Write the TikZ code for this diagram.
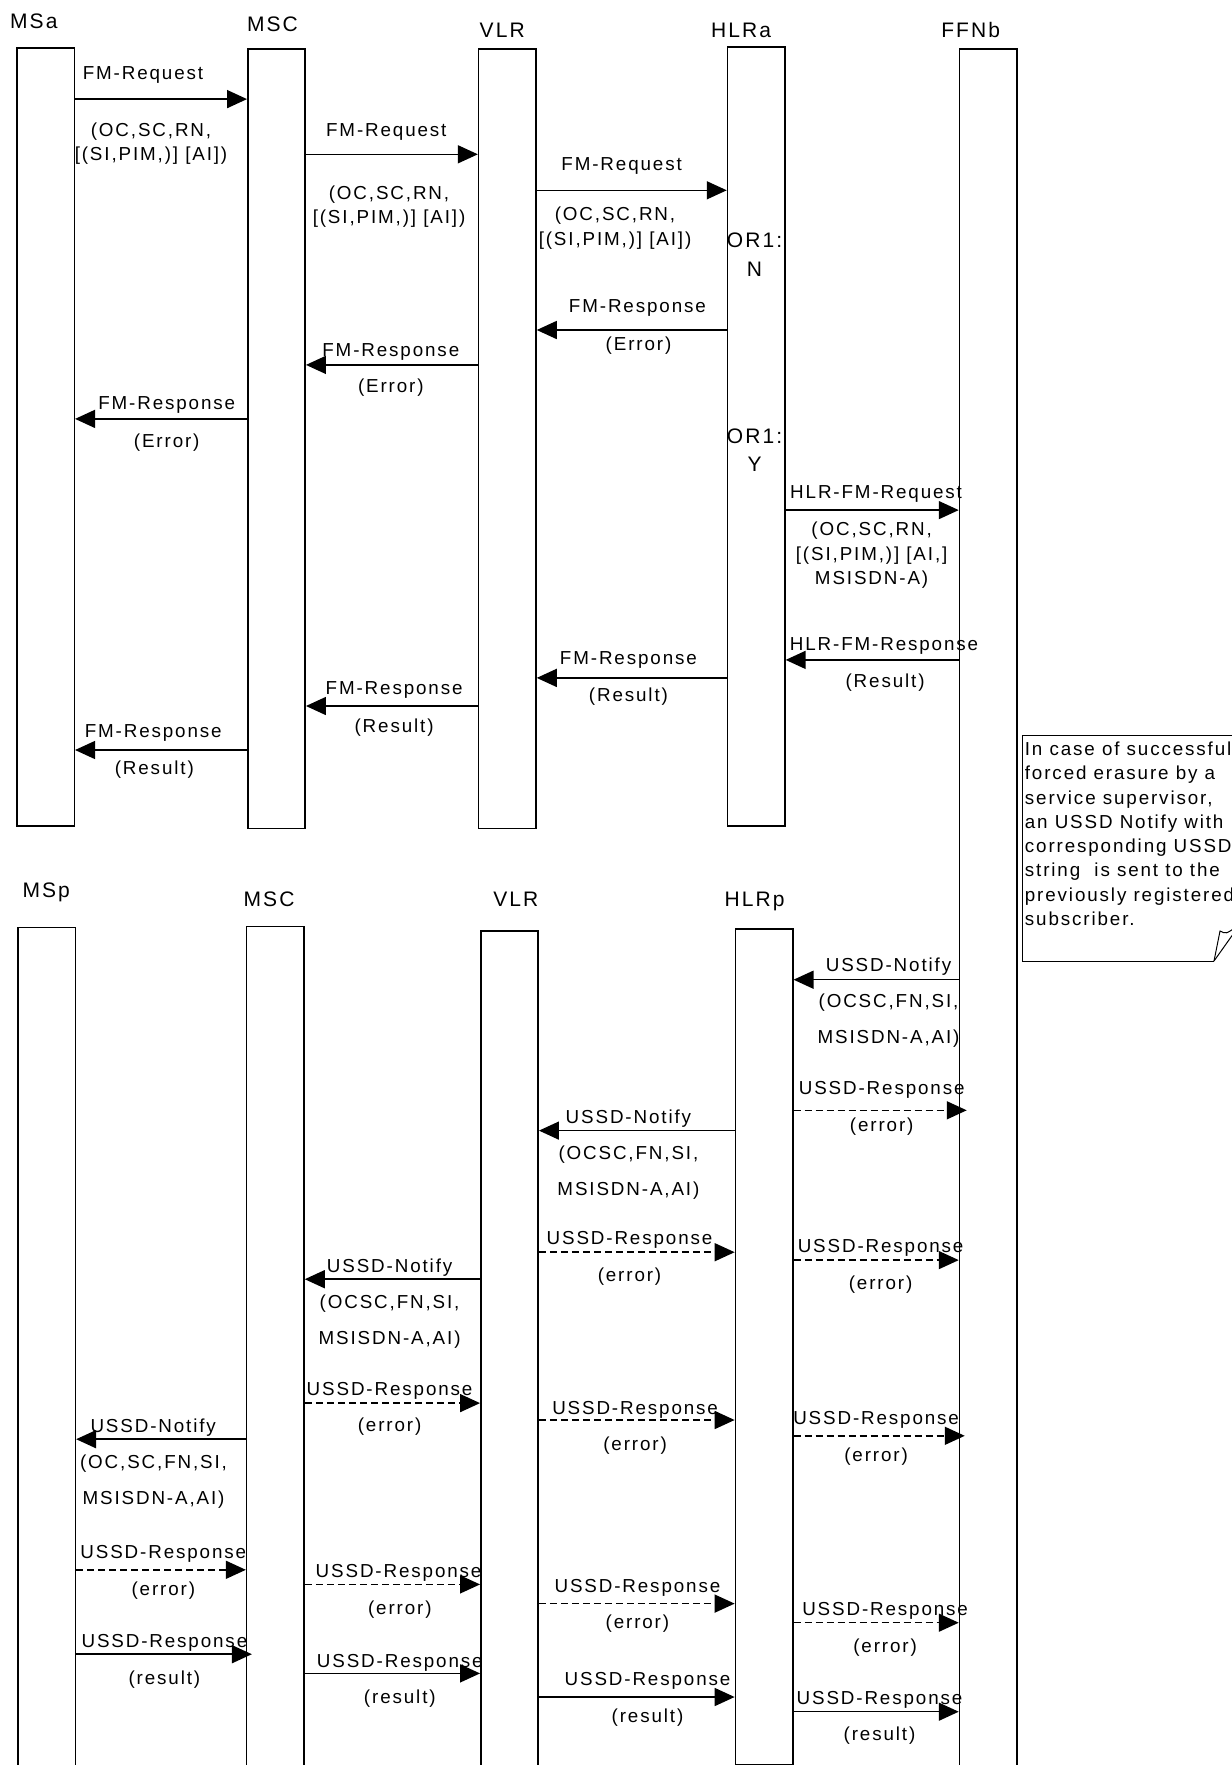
\documentclass[tikz,border=0pt]{standalone}
\usepackage{fontspec}
\setmainfont{Liberation Sans}[LetterSpace=10]
\usetikzlibrary{arrows.meta}
\newcommand\msgfont{\fontsize{18.8}{24.5}\selectfont}
\newcommand\lanefont{\fontsize{21}{25}\selectfont}
\tikzset{
  lane/.style={draw, line width=1.5pt, minimum width=57.4pt, inner sep=0pt, anchor=north},
  lanename/.style={font=\lanefont, anchor=base, inner sep=0pt},
  msgtext/.style={font=\msgfont, anchor=base, inner sep=0pt, align=center},
  msgarrow/.style={line width=1.5pt, -{Triangle[length=20pt, width=18pt]}},
  msgdashed/.style={msgarrow, dash pattern=on 7pt off 4pt},
}

\begin{document}
\begin{tikzpicture}[x=1pt, y=-1pt]
  \useasboundingbox (0,0) rectangle (1232,1765);

  % upper part: forced erasure request
  \node[lane, minimum height=778.1pt] (msa) at (45.6,47.3) {};
  \node[lane, minimum height=779.3pt] (msca) at (276.5,48.4) {};
  \node[lane, minimum height=779.3pt] (vlra) at (507.3,48.4) {};
  \node[lane, minimum height=779.2pt] (hlra) at (756.2,46.2) {};
  \node[lane, minimum height=1752pt] (ffnb) at (988.2,48.4) {};
  \node[lanename] (msaname) at (33.8,28.9) {MSa};
  \node[lanename] (mscaname) at (272.5,31.1) {MSC};
  \node[lanename] (vlraname) at (502.2,37.9) {VLR};
  \node[lanename] (hlraname) at (741,37.9) {HLRa};
  \node[lanename] (ffnbname) at (970.7,37.9) {FFNb};

  \draw[msgarrow] (msa.east |- 0,99.1) -- (msca.west |- 0,99.1);
  \node[msgtext] (req1) at (143,79.7) {FM-Request};
  \node[msgtext] (req1par) at (151,160.5) {(OC,SC,RN,\\{}[(SI,PIM,)] [AI])};
  \draw[msgarrow] (msca.east |- 0,154.3) -- (vlra.west |- 0,154.3);
  \node[msgtext] (req2) at (386.3,136) {FM-Request};
  \node[msgtext] (req2par) at (389,223.6) {(OC,SC,RN,\\{}[(SI,PIM,)] [AI])};
  \draw[msgarrow] (vlra.east |- 0,190.3) -- (hlra.west |- 0,190.3);
  \node[msgtext] (req3) at (621.6,170.9) {FM-Request};
  \node[msgtext] (req3par) at (615,245) {(OC,SC,RN,\\{}[(SI,PIM,)] [AI])};
  \node[lanename] (orn) at (754.5,247.5) {OR1:};
  \node[lanename] (ornval) at (754.5,276.8) {N};

  \draw[msgarrow] (hlra.west |- 0,330) -- (vlra.east |- 0,330);
  \node[msgtext] (err1) at (637.4,312.8) {FM-Response};
  \node[msgtext] (err1par) at (638.5,350) {(Error)};
  \draw[msgarrow] (vlra.west |- 0,364.9) -- (msca.east |- 0,364.9);
  \node[msgtext] (err2) at (390.8,356.7) {FM-Response};
  \node[msgtext] (err2par) at (390.8,392.8) {(Error)};
  \draw[msgarrow] (msca.west |- 0,418.9) -- (msa.east |- 0,418.9);
  \node[msgtext] (err3) at (166.7,409.6) {FM-Response};
  \node[msgtext] (err3par) at (166.7,447.9) {(Error)};
  \node[lanename] (ory) at (754.5,443.4) {OR1:};
  \node[lanename] (oryval) at (754.5,471.6) {Y};

  \draw[msgarrow] (hlra.east |- 0,510.1) -- (ffnb.west |- 0,510.1);
  \node[msgtext] (hreq) at (876.1,498.6) {HLR-FM-Request};
  \node[msgtext] (hreqpar) at (871.6,584.8) {(OC,SC,RN,\\{}[(SI,PIM,)] [AI,]\\MSISDN-A)};
  \draw[msgarrow] (ffnb.west |- 0,659.9) -- (hlra.east |- 0,659.9);
  \node[msgtext] (hres) at (884,650.6) {HLR-FM-Response};
  \node[msgtext] (hrespar) at (885.1,687.8) {(Result)};
  \draw[msgarrow] (hlra.west |- 0,677.9) -- (vlra.east |- 0,677.9);
  \node[msgtext] (res1) at (628.4,664.1) {FM-Response};
  \node[msgtext] (res1par) at (628.4,701.3) {(Result)};
  \draw[msgarrow] (vlra.west |- 0,706) -- (msca.east |- 0,706);
  \node[msgtext] (res2) at (394.1,694.5) {FM-Response};
  \node[msgtext] (res2par) at (394.1,732.8) {(Result)};
  \draw[msgarrow] (msca.west |- 0,750) -- (msa.east |- 0,750);
  \node[msgtext] (res3) at (153.2,737.3) {FM-Response};
  \node[msgtext] (res3par) at (154.3,774.5) {(Result)};

  % comment note
  \draw[line width=1pt] (1240,735.3) -- (1022.5,735.3) -- (1022.5,961) -- (1214,961);
  \draw[line width=1pt] (1214,961) -- (1220,931) .. controls (1226,934) .. (1236,927);
  \draw[line width=1pt] (1214,961) -- (1236,930);
  \node[font=\fontsize{18.8}{24.3}\selectfont, anchor=base west, inner sep=0pt, align=left] (note)
    at (1024.7,925.5) {In case of successful\\forced erasure by a\\service supervisor,\\an USSD Notify with\\corresponding USSD\\string\ \ is sent to the\\previously registered\\subscriber.};

  % lower part: USSD notification
  \node[lane, minimum height=880pt] (msp) at (46.7,926.8) {};
  \node[lane, minimum height=880pt] (mscp) at (275.3,925.7) {};
  \node[lane, minimum height=880pt] (vlrp) at (509.5,930.2) {};
  \node[lane, minimum height=835.5pt] (hlrp) at (764.1,928) {};
  \node[lanename] (mspname) at (46.2,897.1) {MSp};
  \node[lanename] (mscpname) at (269.1,906.1) {MSC};
  \node[lanename] (vlrpname) at (515.8,906.1) {VLR};
  \node[lanename] (hlrpname) at (754.5,906.1) {HLRp};

  \draw[msgarrow] (ffnb.west |- 0,979.7) -- (hlrp.east |- 0,979.7);
  \node[msgtext] (ntf1) at (888.5,971.6) {USSD-Notify};
  \node[msgtext] (ntf1par) at (888.5,1043.6) {(OCSC,FN,SI,\\[11.5pt]MSISDN-A,AI)};
  \draw[msgdashed, shorten >=-8pt] (hlrp.east |- 0,1110.3) -- (ffnb.west |- 0,1110.3);
  \node[msgtext] (ack1) at (881.7,1094.3) {USSD-Response};
  \node[msgtext] (ack1par) at (881.7,1131.5) {(error)};

  \draw[msgarrow] (hlrp.west |- 0,1130.6) -- (vlrp.east |- 0,1130.6);
  \node[msgtext] (ntf2) at (628.4,1123.6) {USSD-Notify};
  \node[msgtext] (ntf2par) at (628.4,1195.6) {(OCSC,FN,SI,\\[11.5pt]MSISDN-A,AI)};
  \draw[msgdashed] (vlrp.east |- 0,1252.2) -- (hlrp.west |- 0,1252.2);
  \node[msgtext] (ack2) at (629.5,1244.1) {USSD-Response};
  \node[msgtext] (ack2par) at (629.5,1281.2) {(error)};
  \draw[msgdashed] (hlrp.east |- 0,1260.1) -- (ffnb.west |- 0,1260.1);
  \node[msgtext] (ack3) at (880.6,1252) {USSD-Response};
  \node[msgtext] (ack3par) at (880.6,1289.1) {(error)};

  \draw[msgarrow] (vlrp.west |- 0,1279.2) -- (mscp.east |- 0,1279.2);
  \node[msgtext] (ntf3) at (389.6,1272.2) {USSD-Notify};
  \node[msgtext] (ntf3par) at (389.6,1344.3) {(OCSC,FN,SI,\\[11.5pt]MSISDN-A,AI)};
  \draw[msgdashed] (mscp.east |- 0,1403.1) -- (vlrp.west |- 0,1403.1);
  \node[msgtext] (ack4) at (389.6,1395) {USSD-Response};
  \node[msgtext] (ack4par) at (389.6,1431) {(error)};
  \draw[msgdashed] (vlrp.east |- 0,1420) -- (hlrp.west |- 0,1420);
  \node[msgtext] (ack5) at (635.1,1414.1) {USSD-Response};
  \node[msgtext] (ack5par) at (635.1,1450.1) {(error)};
  \draw[msgdashed, shorten >=-6pt] (hlrp.east |- 0,1435.8) -- (ffnb.west |- 0,1435.8);
  \node[msgtext] (ack6) at (876.1,1424.3) {USSD-Response};
  \node[msgtext] (ack6par) at (876.1,1461.4) {(error)};

  \draw[msgarrow] (mscp.west |- 0,1439.2) -- (msp.east |- 0,1439.2);
  \node[msgtext] (ntf4) at (153.2,1432.1) {USSD-Notify};
  \node[msgtext] (ntf4par) at (153.5,1504.2) {(OC,SC,FN,SI,\\[11.5pt]MSISDN-A,AI)};
  \draw[msgdashed] (msp.east |- 0,1569.8) -- (mscp.west |- 0,1569.8);
  \node[msgtext] (ack7) at (163.3,1558.3) {USSD-Response};
  \node[msgtext] (ack7par) at (163.3,1595.5) {(error)};
  \draw[msgdashed] (mscp.east |- 0,1584.4) -- (vlrp.west |- 0,1584.4);
  \node[msgtext] (ack8) at (398.6,1577.4) {USSD-Response};
  \node[msgtext] (ack8par) at (399.8,1614.5) {(error)};
  \draw[msgdashed] (vlrp.east |- 0,1603.6) -- (hlrp.west |- 0,1603.6);
  \node[msgtext] (ack9) at (637.4,1592.1) {USSD-Response};
  \node[msgtext] (ack9par) at (637.4,1628.1) {(error)};
  \draw[msgdashed] (hlrp.east |- 0,1622.7) -- (ffnb.west |- 0,1622.7);
  \node[msgtext] (ack10) at (885.1,1615.7) {USSD-Response};
  \node[msgtext] (ack10par) at (885.1,1652.9) {(error)};

  \draw[msgarrow, shorten >=-6pt] (msp.east |- 0,1654.2) -- (mscp.west |- 0,1654.2);
  \node[msgtext] (fin1) at (164.4,1647.2) {USSD-Response};
  \node[msgtext] (fin1par) at (164.4,1684.4) {(result)};
  \draw[msgarrow] (mscp.east |- 0,1673.4) -- (vlrp.west |- 0,1673.4);
  \node[msgtext] (fin2) at (399.8,1667.5) {USSD-Response};
  \node[msgtext] (fin2par) at (399.8,1703.5) {(result)};
  \draw[msgarrow] (vlrp.east |- 0,1697) -- (hlrp.west |- 0,1697);
  \node[msgtext] (fin3) at (647.5,1685.5) {USSD-Response};
  \node[msgtext] (fin3par) at (647.5,1722.7) {(result)};
  \draw[msgarrow] (hlrp.east |- 0,1711.7) -- (ffnb.west |- 0,1711.7);
  \node[msgtext] (fin4) at (879.5,1704.7) {USSD-Response};
  \node[msgtext] (fin4par) at (879.5,1740.7) {(result)};
\end{tikzpicture}
\end{document}
